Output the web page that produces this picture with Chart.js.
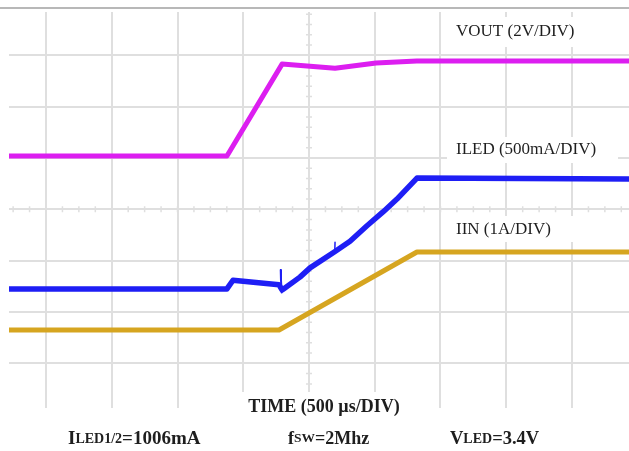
<!DOCTYPE html>
<html><head><meta charset="utf-8">
<script src="https://cdn.jsdelivr.net/npm/chart.js@4.4.0/dist/chart.umd.min.js"></script>
<style>html,body{margin:0;padding:0;background:#fff}#wrap{width:629px;height:451px;position:relative}canvas{display:block}</style>
</head><body><div id="wrap"><canvas id="c" width="629" height="451"></canvas></div>
<script>
// Scope screen: time in microseconds (500 us/div), vertical position in screen divisions
const xGridUs = [500, 1000, 1500, 2000, 2500, 3000, 3500, 4000, 4500];
const yGridDiv = [1, 2, 3, 4, 5, 6, 7];

const voutTimeUs = [200, 1876, 2295, 2698, 3010, 3320, 4950];
const voutDiv    = [5.04, 5.04, 6.83, 6.75, 6.85, 6.89, 6.89];

const iledTimeUs = [200, 1876, 1922, 2272, 2295, 2317, 2431, 2508, 2698, 2812, 2941, 3063, 3169, 3321, 4950];
const iledDiv    = [2.45, 2.45, 2.62, 2.53, 2.43, 2.47, 2.68, 2.86, 3.18, 3.38, 3.68, 3.95, 4.20, 4.61, 4.59];

// switching glitches on ILED (thin spikes)
const glitch1TimeUs = [2285, 2287, 2292];
const glitch1Div    = [2.82, 2.62, 2.38];
const glitch2TimeUs = [2696, 2698];
const glitch2Div    = [3.18, 3.36];

const iinTimeUs = [200, 2272, 3321, 4950];
const iinDiv    = [1.65, 1.65, 3.17, 3.17];

const traceLabels = ['VOUT (2V/DIV)', 'ILED (500mA/DIV)', 'IIN (1A/DIV)'];
const xTitle = 'TIME (500 µs/DIV)';

const pts = (xs, ys) => xs.map((x, i) => ({x, y: ys[i]}));

const GRID = 'rgb(223,223,223)';
const BLUE = 'rgb(30,30,245)';

const overlay = {
  id: 'overlay',
  beforeDatasetsDraw(chart) {
    const ctx = chart.ctx, xs = chart.scales.x, ys = chart.scales.y;
    ctx.save();
    ctx.strokeStyle = GRID; ctx.lineWidth = 1.5;
    const cx = xs.getPixelForValue(2500), cy = ys.getPixelForValue(4);
    ctx.beginPath();
    for (let k = 0; k <= 40; k++) {
      const p = xs.getPixelForValue(k * 125);
      if (p < chart.chartArea.left || p > chart.chartArea.right) continue;
      ctx.moveTo(p, cy - 3); ctx.lineTo(p, cy + 3);
    }
    for (let k = 0; k <= 40; k++) {
      const p = ys.getPixelForValue(k * 0.2);
      if (p < chart.chartArea.top || p > chart.chartArea.bottom) continue;
      ctx.moveTo(cx - 3, p); ctx.lineTo(cx + 3, p);
    }
    ctx.stroke();
    ctx.fillStyle = '#fff';
    ctx.fillRect(447, 17, 171, 30);
    ctx.fillRect(447, 137, 171, 26);
    ctx.fillRect(447, 216, 171, 26);
    ctx.fillRect(238, 392, 194, 20);
    ctx.restore();
  },
  afterDraw(chart) {
    const ctx = chart.ctx;
    ctx.save();
    ctx.strokeStyle = '#a0a0a0'; ctx.lineWidth = 1.5;
    ctx.beginPath(); ctx.moveTo(0, 8); ctx.lineTo(629, 8); ctx.stroke();
    ctx.fillStyle = '#1e1e1e';
    ctx.textBaseline = 'middle'; ctx.textAlign = 'left';
    ctx.font = '17px "Liberation Serif"';
    ctx.fillText(traceLabels[0], 456, 32);
    ctx.fillText(traceLabels[1], 456, 150);
    ctx.fillText(traceLabels[2], 456, 230);
    ctx.font = 'bold 18px "Liberation Serif"';
    ctx.textAlign = 'center';
    ctx.fillText(xTitle, 324, 407);
    ctx.textAlign = 'left';
    const runs = (x, y, parts) => {
      for (const [txt, size] of parts) {
        ctx.font = 'bold ' + size + 'px "Liberation Serif"';
        ctx.fillText(txt, x, y);
        x += ctx.measureText(txt).width;
      }
    };
    runs(68, 439, [['I', 19], ['LED1/2', 14], ['=1006mA', 19]]);
    runs(288, 439, [['f', 18], ['SW', 13.5], ['=2Mhz', 18]]);
    runs(450, 439, [['V', 18.5], ['LED', 14], ['=3.4V', 18.5]]);
    ctx.restore();
  }
};

new Chart(document.getElementById('c'), {
  type: 'line',
  data: {
    datasets: [
      {label: traceLabels[0], data: pts(voutTimeUs, voutDiv), borderColor: 'rgb(220,30,240)', borderWidth: 5},
      {label: traceLabels[1], data: pts(iledTimeUs, iledDiv), borderColor: BLUE, borderWidth: 5.5},
      {label: 'glitch1', data: pts(glitch1TimeUs, glitch1Div), borderColor: BLUE, borderWidth: 2},
      {label: 'glitch2', data: pts(glitch2TimeUs, glitch2Div), borderColor: BLUE, borderWidth: 1.5},
      {label: traceLabels[2], data: pts(iinTimeUs, iinDiv), borderColor: 'rgb(214,165,32)', borderWidth: 5}
    ]
  },
  options: {
    responsive: false, animation: false, devicePixelRatio: 1,
    layout: {padding: {left: 9, top: 12, right: 0, bottom: 43}},
    elements: {point: {radius: 0}, line: {tension: 0, borderJoinStyle: 'round', borderCapStyle: 'round'}},
    plugins: {legend: {display: false}, tooltip: {enabled: false}},
    scales: {
      x: {type: 'linear', min: 218.6, max: 4933.5,
          afterBuildTicks: s => { s.ticks = xGridUs.map(v => ({value: v})); },
          grid: {color: GRID, lineWidth: 2, drawTicks: false}, border: {display: false}, ticks: {display: false}},
      y: {type: 'linear', min: 0.13, max: 7.845,
          afterBuildTicks: s => { s.ticks = yGridDiv.map(v => ({value: v})); },
          grid: {color: GRID, lineWidth: 2, drawTicks: false}, border: {display: false}, ticks: {display: false}}
    }
  },
  plugins: [overlay]
});
</script></body></html>
